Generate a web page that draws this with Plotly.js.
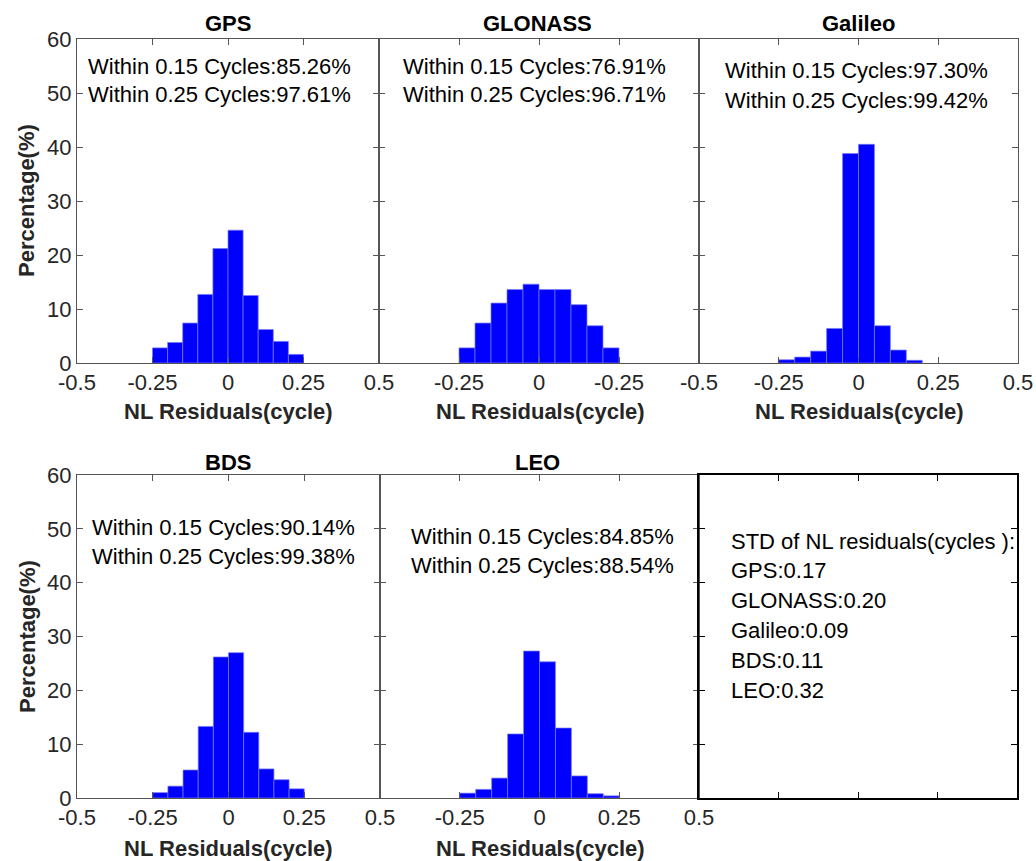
<!DOCTYPE html>
<html>
<head>
<meta charset="utf-8">
<script src="https://cdn.plot.ly/plotly-3.0.1.min.js"></script>
<style>html,body{margin:0;padding:0;background:#fff;}#chart{width:1036px;height:861px;}</style>
</head>
<body>
<div id="chart"></div>
<script>
// ---- data ----
const binCenters = [-0.225, -0.175, -0.125, -0.075, -0.025, 0.025, 0.075, 0.125, 0.175, 0.225];
const gpsPct     = [2.8, 3.8, 7.4, 12.7, 21.2, 24.6, 12.5, 6.2, 4.0, 1.6];
const glonassPct = [2.8, 7.4, 11.1, 13.6, 14.6, 13.6, 13.6, 10.8, 6.9, 2.8];
const galileoPct = [0.6, 1.1, 2.2, 6.4, 38.8, 40.5, 6.9, 2.4, 0.5];
const bdsPct     = [1.0, 2.2, 5.2, 13.3, 26.2, 27.0, 12.2, 5.4, 3.4, 1.7];
const leoPct     = [0.9, 1.6, 3.7, 11.9, 27.3, 25.3, 13.0, 4.1, 0.8, 0.4];

const systems   = ['GPS', 'GLONASS', 'Galileo', 'BDS', 'LEO'];
const within015 = ['85.26%', '76.91%', '97.30%', '90.14%', '84.85%'];
const within025 = ['97.61%', '96.71%', '99.42%', '99.38%', '88.54%'];
const stdValues = ['0.17', '0.20', '0.09', '0.11', '0.32'];

const xTickVals = [-0.5, -0.25, 0, 0.25, 0.5];
const xTickText = [
  ['-0.5', '-0.25', '0', '0.25', '0.5'],
  ['', '-0.25', '0', '-0.25', ''],
  ['-0.5', '-0.25', '0', '0.25', '0.5'],
  ['-0.5', '-0.25', '0', '0.25', '0.5'],
  ['', '-0.25', '0', '0.25', '0.5'],
  ['', '', '', '', '']
];
const yTickVals = [0, 10, 20, 30, 40, 50, 60];
const xTitle = 'NL Residuals(cycle)';
const yTitle = 'Percentage(%)';

// ---- layout helpers ----
const W = 1036, H = 861;
const fx = x => x / W;
const fy = y => 1 - y / H;
const FONT = '"Liberation Sans", Arial, sans-serif';

const panels = [
  {x0: 77,  x1: 379,  y0: 39,  y1: 363},
  {x0: 379, x1: 699,  y0: 39,  y1: 363},
  {x0: 699, x1: 1018, y0: 39,  y1: 363},
  {x0: 77,  x1: 380,  y0: 475, y1: 798},
  {x0: 380, x1: 699,  y0: 475, y1: 798},
  {x0: 699, x1: 1017, y0: 475, y1: 798}
];
const series = [gpsPct, glonassPct, galileoPct, bdsPct, leoPct];

const traces = series.map((vals, i) => ({
  type: 'bar',
  x: binCenters.slice(0, vals.length),
  y: vals,
  width: 0.05,
  xaxis: 'x' + (i === 0 ? '' : i + 1),
  yaxis: 'y' + (i === 0 ? '' : i + 1),
  marker: {color: '#0000ff', line: {color: '#7a7aff', width: 0.7}},
  hoverinfo: 'x+y',
  showlegend: false
}));
// invisible trace so the text panel has its own axes
traces.push({type: 'scatter', mode: 'markers', x: [0], y: [30], xaxis: 'x6', yaxis: 'y6',
  marker: {opacity: 0}, showlegend: false, hoverinfo: 'skip'});

const layout = {
  width: W, height: H, autosize: false,
  margin: {l: 0, r: 0, t: 0, b: 0},
  paper_bgcolor: '#ffffff', plot_bgcolor: 'rgba(0,0,0,0)',
  bargap: 0,
  font: {family: FONT, size: 22, color: '#262626'},
  annotations: [], showlegend: false
};

panels.forEach((p, i) => {
  const k = i === 0 ? '' : String(i + 1);
  const isLast = i === 5;
  const lc = isLast ? '#000000' : '#555555';
  const lw = isLast ? 1.6 : 1;
  layout['xaxis' + k] = {
    domain: [fx(p.x0), fx(p.x1)], anchor: 'y' + k,
    range: [-0.5, 0.5], tickmode: 'array', tickvals: xTickVals, ticktext: xTickText[i],
    ticks: 'inside', ticklen: 6, tickcolor: lc, tickwidth: 1,
    showline: true, linecolor: lc, linewidth: lw, mirror: 'ticks',
    showgrid: false, zeroline: false, fixedrange: true,
    tickfont: {family: FONT, size: 22, color: '#262626'}
  };
  layout['yaxis' + k] = {
    domain: [fy(p.y1), fy(p.y0)], anchor: 'x' + k,
    range: [0, 60], tickmode: 'array', tickvals: yTickVals,
    ticksuffix: '\u00a0',
    showticklabels: (i === 0 || i === 3),
    ticks: 'inside', ticklen: 6, tickcolor: lc, tickwidth: 1,
    showline: true, linecolor: lc, linewidth: lw, mirror: 'ticks',
    showgrid: false, zeroline: false, fixedrange: true,
    tickfont: {family: FONT, size: 22, color: '#262626'}
  };
});

// panel titles, stats text, axis titles
const titlePos = [[228, 23], [537, 23], [858, 23], [228, 462], [537, 462]];
const statPos  = [[86, 66], [401, 66], [723, 71], [90, 527], [409, 536]];
const xTitlePos = [[228, 411], [540, 411], [859, 411], [228, 848], [540, 848]];

systems.forEach((s, i) => {
  layout.annotations.push({
    xref: 'paper', yref: 'paper', x: fx(titlePos[i][0]), y: fy(titlePos[i][1]),
    xanchor: 'center', yanchor: 'middle', showarrow: false,
    text: '<b>' + s + '</b>', font: {family: FONT, size: 22, color: '#000000'}
  });
  layout.annotations.push({
    xref: 'paper', yref: 'paper', x: fx(statPos[i][0]), y: fy(statPos[i][1]),
    xanchor: 'left', yanchor: 'middle', showarrow: false,
    text: 'Within 0.15 Cycles:' + within015[i], font: {family: FONT, size: 22, color: '#000000'}
  });
  layout.annotations.push({
    xref: 'paper', yref: 'paper', x: fx(statPos[i][0]), y: fy(statPos[i][1] + 29),
    xanchor: 'left', yanchor: 'middle', showarrow: false,
    text: 'Within 0.25 Cycles:' + within025[i], font: {family: FONT, size: 22, color: '#000000'}
  });
  layout.annotations.push({
    xref: 'paper', yref: 'paper', x: fx(xTitlePos[i][0]), y: fy(xTitlePos[i][1]),
    xanchor: 'center', yanchor: 'middle', showarrow: false,
    text: '<b>' + xTitle + '</b>', font: {family: FONT, size: 22, color: '#262626'}
  });
});

[[27, 201], [27, 637]].forEach(pos => {
  layout.annotations.push({
    xref: 'paper', yref: 'paper', x: fx(pos[0]), y: fy(pos[1]),
    xanchor: 'center', yanchor: 'middle', showarrow: false, textangle: -90,
    text: '<b>' + yTitle + '</b>', font: {family: FONT, size: 22, color: '#262626'}
  });
});

// STD text block
const stdLines = ['STD of NL residuals(cycles ):'].concat(systems.map((s, i) => s + ':' + stdValues[i]));
stdLines.forEach((t, j) => {
  layout.annotations.push({
    xref: 'paper', yref: 'paper', x: fx(729), y: fy(541 + j * 29.8),
    xanchor: 'left', yanchor: 'middle', showarrow: false,
    text: t, font: {family: FONT, size: 22, color: '#000000'}
  });
});

Plotly.newPlot('chart', traces, layout, {staticPlot: true, displayModeBar: false});
</script>
</body>
</html>
